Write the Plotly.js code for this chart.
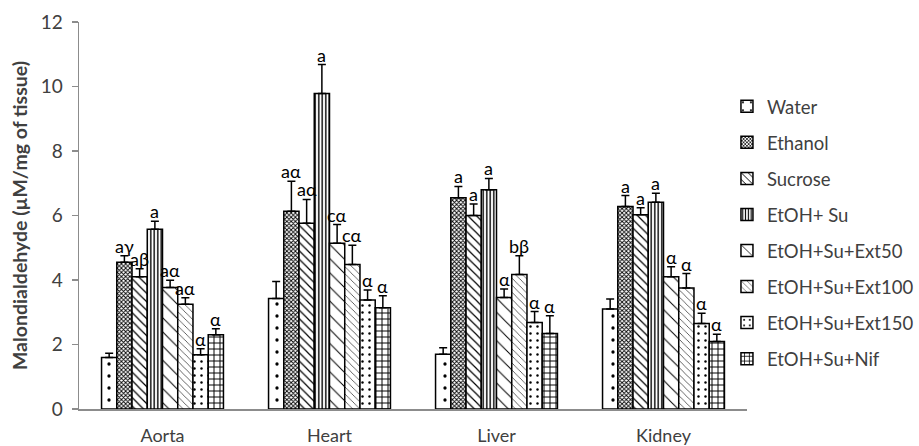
<!DOCTYPE html>
<html>
<head>
<meta charset="utf-8">
<script src="https://cdn.plot.ly/plotly-3.0.1.min.js"></script>
<style>html,body{margin:0;padding:0;background:#fff;}#chart{width:919px;height:446px;}</style>
</head>
<body>
<div id="chart"></div>
<script>
const tissues = ["Aorta", "Heart", "Liver", "Kidney"];
const groups = ["Water", "Ethanol", "Sucrose", "EtOH+ Su", "EtOH+Su+Ext50", "EtOH+Su+Ext100", "EtOH+Su+Ext150", "EtOH+Su+Nif"];

const water      = [1.60, 3.43, 1.70, 3.10];
const ethanol    = [4.55, 6.13, 6.55, 6.28];
const sucrose    = [4.10, 5.76, 6.00, 6.02];
const etohSu     = [5.57, 9.78, 6.80, 6.41];
const ext50      = [3.77, 5.14, 3.46, 4.10];
const ext100     = [3.25, 4.48, 4.17, 3.75];
const ext150     = [1.68, 3.38, 2.68, 2.65];
const nif        = [2.30, 3.14, 2.34, 2.09];

const waterErr   = [0.13, 0.52, 0.20, 0.31];
const ethanolErr = [0.20, 0.93, 0.35, 0.34];
const sucroseErr = [0.25, 0.74, 0.36, 0.22];
const etohSuErr  = [0.25, 0.90, 0.35, 0.28];
const ext50Err   = [0.22, 0.58, 0.26, 0.31];
const ext100Err  = [0.20, 0.60, 0.58, 0.45];
const ext150Err  = [0.19, 0.31, 0.34, 0.32];
const nifErr     = [0.19, 0.37, 0.55, 0.23];

const waterLbl   = ["", "", "", ""];
const ethanolLbl = ["aγ", "aα", "a", "a"];
const sucroseLbl = ["aβ", "aα", "a", "a"];
const etohSuLbl  = ["a", "a", "a", "a"];
const ext50Lbl   = ["aα", "cα", "α", "α"];
const ext100Lbl  = ["aα", "cα", "bβ", "α"];
const ext150Lbl  = ["α", "α", "α", "α"];
const nifLbl     = ["α", "α", "α", "α"];

const values = [water, ethanol, sucrose, etohSu, ext50, ext100, ext150, nif];
const errors = [waterErr, ethanolErr, sucroseErr, etohSuErr, ext50Err, ext100Err, ext150Err, nifErr];
const labels = [waterLbl, ethanolLbl, sucroseLbl, etohSuLbl, ext50Lbl, ext100Lbl, ext150Lbl, nifLbl];

const patterns = [
  {shape: ".", size: 12, solidity: 0.06},
  {shape: "x", size: 3, solidity: 0.5},
  {shape: "\\", size: 6, solidity: 0.2},
  {shape: "|", size: 3.5, solidity: 0.4},
  {shape: "\\", size: 10, solidity: 0.1},
  {shape: "\\", size: 5, solidity: 0.12},
  {shape: ".", size: 7, solidity: 0.1},
  {shape: "+", size: 6, solidity: 0.3}
];

const FONT = "Lato, 'Open Sans', sans-serif";
const bargap = 0.27;
const n = groups.length;
const bw = (1 - bargap) / n;

const traces = groups.map((g, j) => ({
  type: "bar",
  name: g,
  x: tissues,
  y: values[j],
  legendgroup: "g" + j,
  marker: {
    color: "#ffffff",
    line: {color: "#000000", width: 1.5},
    pattern: Object.assign({fgcolor: "#000000", bgcolor: "#ffffff", fillmode: "replace"}, patterns[j])
  },
  error_y: {type: "data", symmetric: false, array: errors[j], arrayminus: errors[j].map(() => 0), color: "#000000", thickness: 1.5, width: 4}
}));

const annotations = [];
groups.forEach((g, j) => {
  tissues.forEach((t, i) => {
    const txt = labels[j][i];
    if (!txt) return;
    annotations.push({
      x: i + (j - (n - 1) / 2) * bw,
      xref: "x",
      y: values[j][i] + errors[j][i],
      yref: "y",
      text: txt,
      showarrow: false,
      yanchor: "bottom",
      xanchor: "center",
      yshift: -3,
      font: {family: FONT, size: 18, color: "#000000"}
    });
  });
});

const layout = {
  width: 919,
  height: 446,
  margin: {l: 79, r: 172, t: 22, b: 37, autoexpand: false},
  paper_bgcolor: "#ffffff",
  plot_bgcolor: "#ffffff",
  barmode: "group",
  bargap: bargap,
  bargroupgap: 0,
  font: {family: FONT, size: 18, color: "#404040"},
  xaxis: {
    type: "category",
    showline: true,
    linecolor: "#8c8c8c",
    linewidth: 1.5,
    ticks: "",
    ticklabelstandoff: 10,
    tickfont: {family: FONT, size: 18, color: "#404040"},
    showgrid: false,
    zeroline: false
  },
  yaxis: {
    range: [0, 12],
    dtick: 2,
    showline: true,
    linecolor: "#8c8c8c",
    linewidth: 1.5,
    ticks: "outside",
    ticklen: 6,
    tickcolor: "#8c8c8c",
    tickwidth: 1.5,
    showgrid: false,
    zeroline: false,
    ticklabelstandoff: 5,
    tickfont: {family: FONT, size: 19, color: "#404040"},
    title: {text: "<b>Malondialdehyde (µM/mg of tissue)</b>", font: {family: FONT, size: 19.5, color: "#404040"}, standoff: 8}
  },
  legend: {
    x: 0.97, xanchor: "left",
    y: 0.83, yanchor: "top",
    font: {family: FONT, size: 18.5, color: "#404040"},
    tracegroupgap: 9,
    itemwidth: 30,
    bgcolor: "rgba(0,0,0,0)"
  },
  annotations: annotations
};

Plotly.newPlot("chart", traces, layout, {displayModeBar: false, staticPlot: true});
</script>
</body>
</html>
